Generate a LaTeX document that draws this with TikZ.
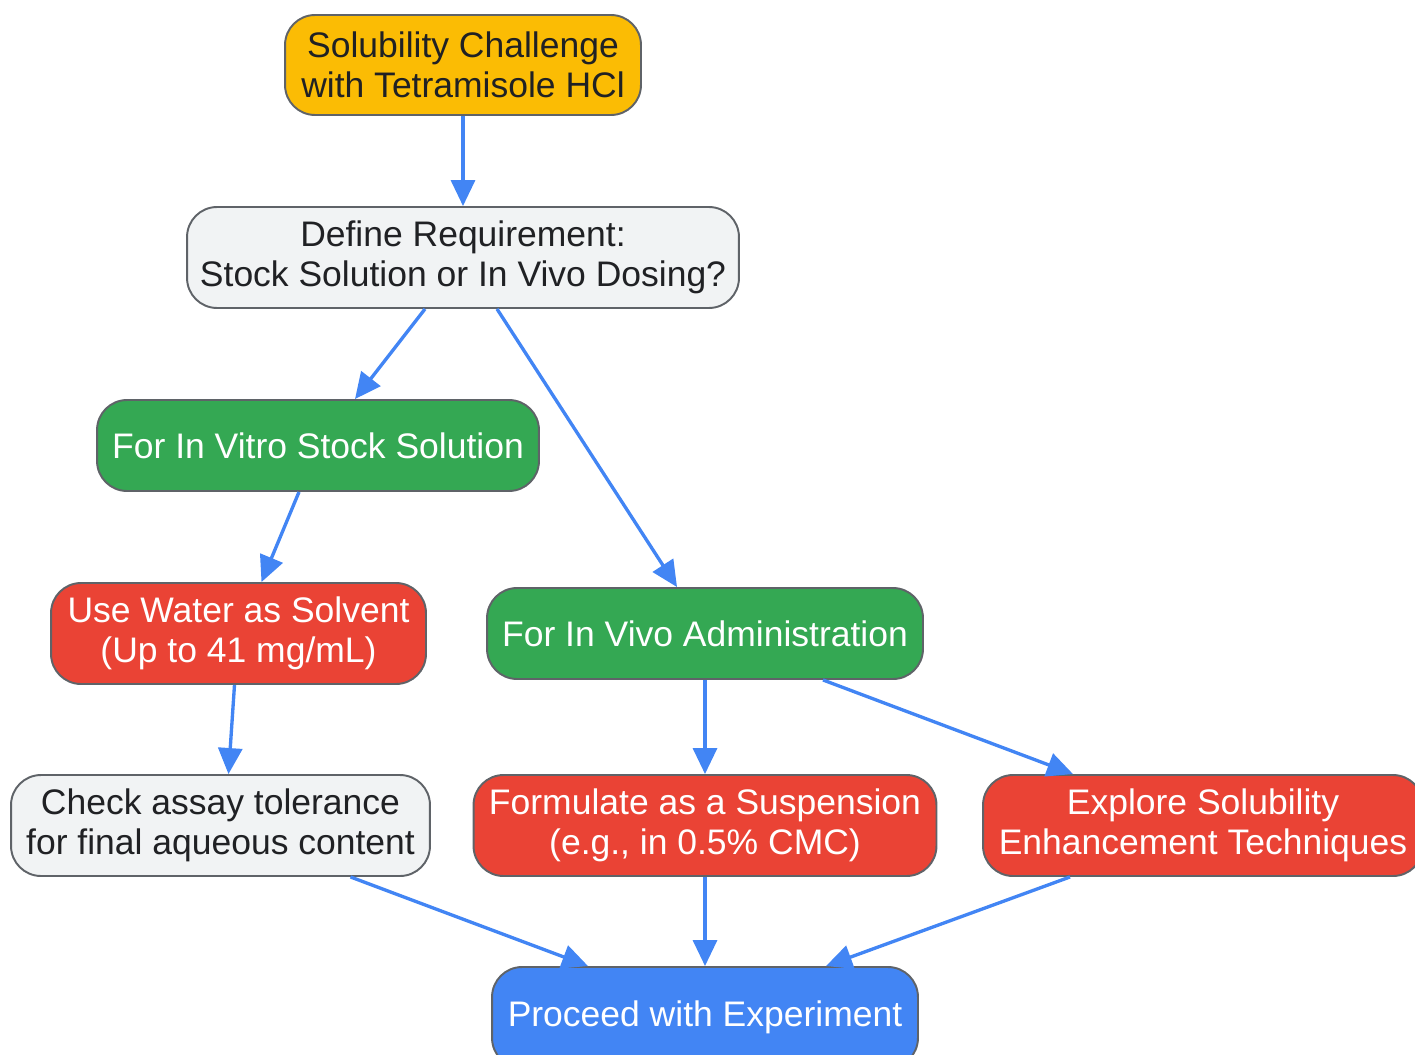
\documentclass[tikz,border=0pt]{standalone}
\usepackage{fontspec}
\setmainfont{Liberation Sans}
\usepackage{tikz}
\usetikzlibrary{arrows.meta}
\usetikzlibrary{calc,shapes}

\definecolor{gyellow}{HTML}{FBBC04}
\definecolor{ggrey}{HTML}{F1F3F4}
\definecolor{ggreen}{HTML}{34A853}
\definecolor{gred}{HTML}{EA4335}
\definecolor{gblue}{HTML}{4285F4}
\definecolor{gborder}{HTML}{5F6368}
\definecolor{gtext}{HTML}{202124}

\begin{document}
\begin{tikzpicture}[x=0.02cm,y=-0.02cm,
    box/.style={draw=gborder,line width=1.1pt,rounded corners=0.6cm,align=center,inner sep=0pt,
        font=\fontsize{20.2}{22.8}\selectfont},
    light/.style={box,text=gtext},
    dark/.style={box,text=white},
    link/.style={gblue,line width=1.9pt,-{Triangle[length=0.52cm,width=0.48cm]}}]
\useasboundingbox (0,0) rectangle (1415,1054);
% boxes
\node [light,fill=gyellow,minimum width=7.12cm,minimum height=2cm] (challenge) at (463,65) {Solubility Challenge\\with Tetramisole HCl};
\node [light,fill=ggrey,minimum width=11.04cm,minimum height=2.02cm] (define) at (463,257.5) {Define Requirement:\\Stock Solution or In Vivo Dosing?};
\node [dark,fill=ggreen,minimum width=8.84cm,minimum height=1.82cm] (invitro) at (318,445.5) {For In Vitro Stock Solution};
\node [dark,fill=gred,minimum width=7.5cm,minimum height=2.02cm] (water) at (238.5,633.5) {Use Water as Solvent\\(Up to 41 mg/mL)};
\node [dark,fill=ggreen,minimum width=8.72cm,minimum height=1.82cm] (invivo) at (705,633.5) {For In Vivo Administration};
\node [light,fill=ggrey,minimum width=8.38cm,minimum height=2.02cm] (check) at (220.5,825.5) {Check assay tolerance\\for final aqueous content};
\node [dark,fill=gred,minimum width=9.26cm,minimum height=2.02cm] (suspension) at (705,825.5) {Formulate as a Suspension\\(e.g., in 0.5\% CMC)};
\node [dark,fill=gred,minimum width=8.8cm,minimum height=2.02cm] (explore) at (1203,825.5) {Explore Solubility\\Enhancement Techniques};
\node [dark,fill=gblue,minimum width=8.52cm,minimum height=2.02cm] (proceed) at (705,1017.5) {Proceed with Experiment};
% links
\draw [link] (challenge) -- (define);
\draw [link] ($(define.south)+(-38,0)$) -- ($(invitro.north)+(37,0)$);
\draw [link] ($(define.south)+(34,0)$) -- ($(invivo.north)+(-28,0)$);
\draw [link] ($(invitro.south)+(-19,0)$) -- ($(water.north)+(23,0)$);
\draw [link] ($(water.south)+(-4,0)$) -- ($(check.north)+(8,0)$);
\draw [link] (invivo) -- (suspension);
\draw [link] ($(invivo.south)+(118,0)$) -- ($(explore.north)+(-130,0)$);
\draw [link] ($(check.south)+(130,0)$) -- ($(proceed.north)+(-117,0)$);
\draw [link] (suspension) -- (proceed);
\draw [link] ($(explore.south)+(-133,0)$) -- ($(proceed.north)+(121,0)$);
\end{tikzpicture}
\end{document}
